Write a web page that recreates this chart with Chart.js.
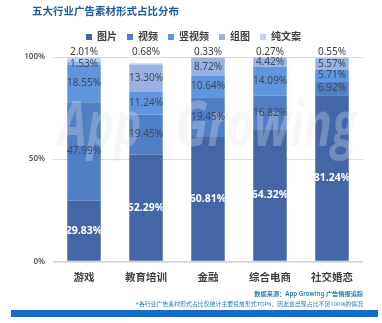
<!DOCTYPE html>
<html><head><meta charset="utf-8">
<script src="https://cdn.jsdelivr.net/npm/chart.js@4.4.1/dist/chart.umd.min.js"></script>
<style>html,body{margin:0;padding:0;background:#fff;overflow:hidden}#wrap{width:382px;height:323px;position:relative}</style>
</head><body><div id="wrap"><canvas id="c" width="382" height="323"></canvas></div>
<script>
const categories = ['游戏', '教育培训', '金融', '综合电商', '社交婚恋'];
const seriesNames = ['图片', '视频', '竖视频', '组图', '纯文案'];
const pictureShare = [29.83, 52.29, 60.81, 64.32, 81.24];
const videoShare = [47.99, 19.45, 19.45, 16.82, 6.92];
const verticalVideoShare = [18.55, 11.24, 10.64, 14.09, 5.71];
const galleryShare = [1.53, 13.30, 8.72, 4.42, 5.57];
const textOnlyShare = [2.01, 0.68, 0.33, 0.27, 0.55];
const yTickValues = [0, 50, 100];

const FAMILY = '"Noto Sans", "Noto Sans CJK SC", sans-serif';
const colors = ['#4367a6', '#4f7fc5', '#5e95dd', '#98b2e4', '#c4d3f0'];
const seriesValues = [pictureShare, videoShare, verticalVideoShare, galleryShare, textOnlyShare];

const datasets = seriesNames.map((name, i) => ({
  label: name,
  data: seriesValues[i],
  backgroundColor: colors[i],
  borderWidth: 0,
  barPercentage: 0.54,
  categoryPercentage: 1
}));

const decor = {
  id: 'decor',
  beforeDraw(chart) {
    const ctx = chart.ctx;
    ctx.save();
    ctx.fillStyle = '#1f5c9e';
    ctx.font = 'bold 10.5px ' + FAMILY;
    ctx.textAlign = 'left';
    ctx.textBaseline = 'middle';
    ctx.fillText('五大行业广告素材形式占比分布', 32, 12);
    ctx.restore();
  },
  afterDraw(chart) {
    const ctx = chart.ctx;
    ctx.save();
    ctx.textAlign = 'right';
    ctx.textBaseline = 'middle';
    ctx.fillStyle = '#2b7cb3';
    ctx.font = '600 6.2px ' + FAMILY;
    ctx.fillText('数据来源：App Growing 广告情报追踪', 363, 294);
    ctx.font = '5.9px ' + FAMILY;
    ctx.fillText('*各行业广告素材形式占比仅统计主要投放形式TOP6，因此会出现占比不足100%的情况', 363, 304);
    ctx.fillStyle = '#176bc6';
    ctx.fillRect(11, 310, 367, 7);
    ctx.restore();
  }
};

const watermark = {
  id: 'watermark',
  afterDatasetsDraw(chart) {
    const ctx = chart.ctx;
    ctx.save();
    ctx.fillStyle = 'rgba(226,229,236,0.3)';
    ctx.font = 'italic bold 46px "Open Sans", sans-serif';
    ctx.textBaseline = 'alphabetic';
    ctx.translate(58, 146);
    ctx.scale(1, 1.35);
    ctx.fillText('App', 0, 0);
    ctx.fillText('Growing', 118, 0);
    ctx.restore();
  }
};

const segLabels = {
  id: 'segLabels',
  afterDatasetsDraw(chart) {
    const ctx = chart.ctx;
    const yScale = chart.scales.y;
    const last = chart.data.datasets.length - 1;
    ctx.save();
    ctx.textAlign = 'center';
    ctx.textBaseline = 'middle';
    chart.data.datasets.forEach((ds, di) => {
      const meta = chart.getDatasetMeta(di);
      meta.data.forEach((bar, i) => {
        const txt = ds.data[i].toFixed(2) + '%';
        if (di === 0) {
          ctx.save();
          ctx.beginPath();
          ctx.rect(bar.x - bar.width / 2, bar.y, bar.width, bar.base - bar.y);
          ctx.clip();
          ctx.fillStyle = '#ffffff';
          ctx.font = 'bold 10.5px ' + FAMILY;
          ctx.fillText(txt, bar.x, (bar.y + bar.base) / 2);
          ctx.restore();
        } else if (di === last) {
          ctx.fillStyle = '#404040';
          ctx.font = '10px ' + FAMILY;
          ctx.fillText(txt, bar.x, yScale.getPixelForValue(100) - 5);
        } else {
          ctx.fillStyle = '#3c4a60';
          ctx.font = '10px ' + FAMILY;
          let cy = (bar.y + bar.base) / 2;
          if (bar.base - bar.y < 8) cy = bar.y + 3;
          ctx.fillText(txt, bar.x, cy);
        }
      });
    });
    ctx.restore();
  }
};

new Chart(document.getElementById('c'), {
  type: 'bar',
  data: { labels: categories, datasets },
  options: {
    responsive: false,
    animation: false,
    devicePixelRatio: 1,
    layout: { padding: { left: 24, right: 19, top: 22, bottom: 29 } },
    plugins: {
      title: { display: false },
      legend: {
        position: 'top',
        align: 'center',
        labels: {
          boxWidth: 6, boxHeight: 6, padding: 10,
          color: '#404040',
          font: { size: 10, weight: '600', family: FAMILY }
        }
      },
      subtitle: {
        display: true, text: '', weight: 500, position: 'top',
        font: { size: 1, lineHeight: 1 }, padding: { top: 4, bottom: 0 }
      },
      tooltip: { enabled: false }
    },
    scales: {
      x: {
        stacked: true,
        grid: { display: false, drawTicks: false },
        border: { display: false },
        ticks: { padding: 10, color: '#404040', font: { size: 10.5, weight: '600', family: FAMILY } }
      },
      y: {
        stacked: true, min: 0, max: 100,
        afterBuildTicks(scale) { scale.ticks = yTickValues.map(v => ({ value: v })); },
        afterFit(scale) { scale.width = 29; },
        grid: { color: ctx => ctx.tick && ctx.tick.value === 0 ? '#cfcfcf' : '#dcdcdc', lineWidth: ctx => ctx.tick && ctx.tick.value === 0 ? 1.5 : 1, drawTicks: false },
        border: { display: false },
        ticks: { padding: 8, color: '#595959', font: { size: 8, weight: '600', family: FAMILY }, callback: v => v + '%' }
      }
    }
  },
  plugins: [decor, watermark, segLabels]
});
</script>
</body></html>
